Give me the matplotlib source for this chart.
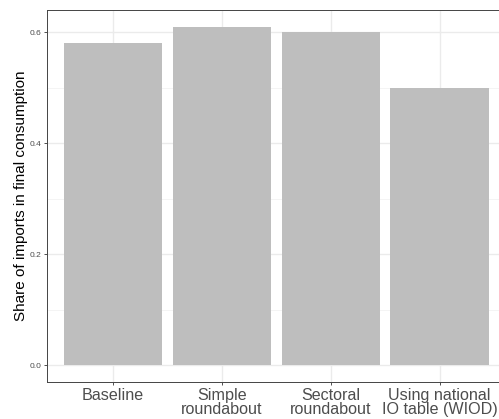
import matplotlib
matplotlib.use("Agg")
import matplotlib.pyplot as plt
from matplotlib.ticker import MultipleLocator

plt.rcParams['font.family'] = ['Liberation Sans', 'DejaVu Sans']

# ======= data =======
scenarios = ["Baseline", "Simple\nroundabout", "Sectoral\nroundabout",
             "Using national\nIO table (WIOD)"]
import_share = [0.58, 0.61, 0.60, 0.50]
y_ticks = [0.0, 0.2, 0.4, 0.6]
# =======================================

fig = plt.figure(figsize=(4.99, 4.19), dpi=100)
ax = fig.add_axes([0.0948, 0.0883, 0.917, 0.888])

pos = list(range(1, len(scenarios) + 1))
ax.bar(pos, import_share, width=0.9, color="#BEBEBE", zorder=2)

ax.set_xlim(0.4, 4.6)
ax.set_ylim(-0.0305, 0.6405)
ax.set_xticks(pos)
ax.set_xticklabels(scenarios, fontsize=11.6, color="#4D4D4D", linespacing=0.98)
ax.set_yticks(y_ticks)
ax.set_yticklabels([f"{v:.1f}" for v in y_ticks], fontsize=6, color="#4D4D4D")
ax.yaxis.set_minor_locator(MultipleLocator(0.1))

ax.grid(True, which="major", color="#EBEBEB", linewidth=1.0, zorder=0)
ax.grid(True, which="minor", axis="y", color="#F2F2F2", linewidth=0.6, zorder=0)
ax.set_axisbelow(True)
ax.tick_params(which="major", length=2.5, width=0.6, color="#333333", pad=2)
ax.tick_params(axis="x", pad=1.5)
ax.tick_params(which="minor", length=0)
for s in ax.spines.values():
    s.set_color("#444444")
    s.set_linewidth(0.7)

ax.set_ylabel("Share of imports in final consumption", fontsize=11, color="black",
              labelpad=1)

fig.savefig("out.png", dpi=100)
